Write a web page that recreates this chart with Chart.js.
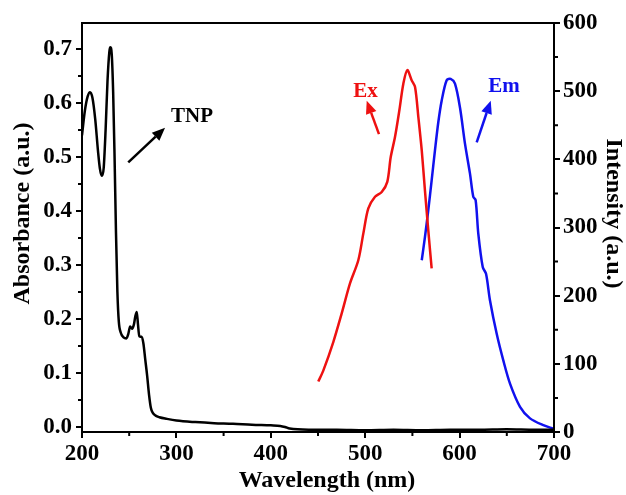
<!DOCTYPE html>
<html>
<head>
<meta charset="utf-8">
<script src="https://cdn.jsdelivr.net/npm/chart.js@4.4.1/dist/chart.umd.min.js"></script>
<style>
  html, body { margin: 0; padding: 0; background: #ffffff; }
  #c { display: block; }
</style>
</head>
<body>
<canvas id="c" width="626" height="495"></canvas>
<script>
// ---- Data ----
const TNP_X = [200, 203, 206, 208.5, 211, 214, 217, 219, 221, 223, 225, 227, 229, 230, 231.5, 233, 234.5, 236, 237.5, 239, 241, 244, 247, 249, 251, 253, 255, 256.5, 258, 259.3, 260.7, 263, 265, 267, 269, 271, 273, 275, 278, 282, 290, 300, 320, 340, 360, 380, 400, 410, 415, 420, 440, 470, 500, 530, 560, 590, 620, 650, 680, 700];
const TNP_Y = [0.54, 0.585, 0.612, 0.620, 0.61, 0.57, 0.51, 0.478, 0.465, 0.48, 0.55, 0.64, 0.695, 0.703, 0.69, 0.62, 0.50, 0.36, 0.25, 0.195, 0.175, 0.166, 0.164, 0.172, 0.186, 0.182, 0.19, 0.205, 0.213, 0.19, 0.168, 0.167, 0.155, 0.125, 0.095, 0.06, 0.035, 0.026, 0.021, 0.018, 0.015, 0.012, 0.009, 0.007, 0.006, 0.004, 0.003, 0.002, 0.0, -0.003, -0.005, -0.005, -0.006, -0.005, -0.006, -0.005, -0.005, -0.004, -0.005, -0.005];

const EX_X = [450.3, 455.6, 466.2, 475.1, 483.9, 492.7, 498, 503.3, 510.4, 517.5, 523.4, 527, 531.6, 536.2, 540.4, 544.6, 549.2, 552.8, 556.3, 559.9, 563.3, 566.8, 570.4];
const EX_Y = [74, 90, 132, 174, 218, 252, 291, 328, 345, 352, 367, 403, 433, 472, 511, 531, 516, 506, 462, 413, 354, 296, 240];

const EM_X = [559.9, 563.3, 566.8, 570.4, 573.9, 577.4, 581, 586.3, 590.5, 595.1, 600.4, 605.7, 611, 614.5, 617, 619.8, 624.5, 628, 632.2, 639.3, 646.3, 653.4, 664, 674.6, 688.7, 699.3];
const EM_Y = [252, 286, 325, 369, 413, 454, 486, 516, 518, 511, 476, 423, 379, 345, 340, 291, 242, 232, 193, 144, 105, 71, 37, 20, 10, 5];

const X_TICKS = [200, 300, 400, 500, 600, 700];
const X_MINOR = [250, 350, 450, 550, 650];
const ABS_TICKS = [0.0, 0.1, 0.2, 0.3, 0.4, 0.5, 0.6, 0.7];
const ABS_MINOR = [0.05, 0.15, 0.25, 0.35, 0.45, 0.55, 0.65];
const INT_TICKS = [0, 100, 200, 300, 400, 500, 600];
const INT_MINOR = [50, 150, 250, 350, 450, 550];

const X_TITLE = 'Wavelength (nm)';
const Y_TITLE = 'Absorbance (a.u.)';
const Y2_TITLE = 'Intensity (a.u.)';

// annotations in data coordinates
const LABELS = [
  { text: 'TNP', x: 316.5, y: 0.574, axis: 'y', color: '#000000' },
  { text: 'Ex', x: 500.3, y: 500, axis: 'y2', color: '#ee1111' },
  { text: 'Em', x: 647, y: 507, axis: 'y2', color: '#1111ee' }
];
const ARROWS = [
  { x0: 249, y0: 0.49, x1: 288, y1: 0.554, axis: 'y', color: '#000000' },
  { x0: 514.6, y0: 437, x1: 501.6, y1: 486, axis: 'y2', color: '#ee1111' },
  { x0: 618.1, y0: 425, x1: 633, y1: 486, axis: 'y2', color: '#1111ee' }
];

const toPts = (xs, ys) => xs.map((x, i) => ({ x: x, y: ys[i] }));

const FONT = 'Liberation Serif, Times New Roman, serif';

const decorPlugin = {
  id: 'decor',
  afterDraw(chart) {
    const ctx = chart.ctx;
    const a = chart.chartArea;
    const xs = chart.scales.x, ys = chart.scales.y, y2 = chart.scales.y2;
    ctx.save();
    // frame
    ctx.strokeStyle = '#000';
    ctx.lineWidth = 2;
    ctx.strokeRect(a.left, a.top, a.right - a.left, a.bottom - a.top);
    // minor ticks
    ctx.beginPath();
    X_MINOR.forEach(v => { const p = xs.getPixelForValue(v); ctx.moveTo(p, a.bottom); ctx.lineTo(p, a.bottom + 4); });
    ABS_MINOR.forEach(v => { const p = ys.getPixelForValue(v); ctx.moveTo(a.left, p); ctx.lineTo(a.left - 4, p); });
    INT_MINOR.forEach(v => { const p = y2.getPixelForValue(v); ctx.moveTo(a.right, p); ctx.lineTo(a.right + 4, p); });
    ctx.stroke();
    // arrows
    ARROWS.forEach(ar => {
      const sy = chart.scales[ar.axis];
      const px0 = xs.getPixelForValue(ar.x0), py0 = sy.getPixelForValue(ar.y0);
      const px1 = xs.getPixelForValue(ar.x1), py1 = sy.getPixelForValue(ar.y1);
      const ang = Math.atan2(py1 - py0, px1 - px0);
      const hl = 13, hw = 5.5;
      const bx = px1 - hl * Math.cos(ang), by = py1 - hl * Math.sin(ang);
      ctx.strokeStyle = ar.color;
      ctx.fillStyle = ar.color;
      ctx.lineWidth = 2.5;
      ctx.beginPath();
      ctx.moveTo(px0, py0);
      ctx.lineTo(bx, by);
      ctx.stroke();
      ctx.beginPath();
      ctx.moveTo(px1, py1);
      ctx.lineTo(bx + hw * Math.sin(ang), by - hw * Math.cos(ang));
      ctx.lineTo(bx - hw * Math.sin(ang), by + hw * Math.cos(ang));
      ctx.closePath();
      ctx.fill();
    });
    // labels
    ctx.font = 'bold 21px ' + FONT;
    ctx.textAlign = 'center';
    ctx.textBaseline = 'middle';
    LABELS.forEach(l => {
      const sy = chart.scales[l.axis];
      ctx.fillStyle = l.color;
      ctx.fillText(l.text, xs.getPixelForValue(l.x), sy.getPixelForValue(l.y));
    });
    // axis titles
    ctx.fillStyle = '#000';
    ctx.font = 'bold 24px ' + FONT;
    const midY = (a.top + a.bottom) / 2 - 14;
    ctx.fillText(X_TITLE, (a.left + a.right) / 2 + 9, a.bottom + 49);
    ctx.save();
    ctx.translate(23, midY);
    ctx.rotate(-Math.PI / 2);
    ctx.fillText(Y_TITLE, 0, 0);
    ctx.restore();
    ctx.save();
    ctx.translate(a.right + 59, midY);
    ctx.rotate(Math.PI / 2);
    ctx.fillText(Y2_TITLE, 0, 0);
    ctx.restore();
    ctx.restore();
  }
};

const tickFont = { family: FONT, size: 23, weight: 'bold' };

new Chart(document.getElementById('c'), {
  type: 'scatter',
  data: {
    datasets: [
      { label: 'TNP', data: toPts(TNP_X, TNP_Y), yAxisID: 'y', showLine: true, borderColor: '#000000', borderWidth: 2.5, pointRadius: 0, cubicInterpolationMode: 'monotone' },
      { label: 'Ex', data: toPts(EX_X, EX_Y), yAxisID: 'y2', showLine: true, borderColor: '#ee1111', borderWidth: 2.5, pointRadius: 0, tension: 0.3 },
      { label: 'Em', data: toPts(EM_X, EM_Y), yAxisID: 'y2', showLine: true, borderColor: '#1111ee', borderWidth: 2.5, pointRadius: 0, tension: 0.3 }
    ]
  },
  options: {
    responsive: false,
    animation: false,
    devicePixelRatio: 1,
    layout: { padding: { top: 23, left: 0, right: 0, bottom: 0 } },
    plugins: { legend: { display: false }, tooltip: { enabled: false } },
    scales: {
      x: {
        type: 'linear', min: 200, max: 700,
        afterBuildTicks: s => { s.ticks = X_TICKS.map(v => ({ value: v })); },
        afterFit: s => { s.height = 63; },
        grid: { drawOnChartArea: false, drawTicks: true, tickLength: 6, color: '#000', lineWidth: 2 },
        border: { display: true, color: '#000', width: 2 },
        ticks: { color: '#000', font: tickFont, padding: 2, maxRotation: 0, autoSkip: false, callback: v => String(v) },
        title: { display: false }
      },
      y: {
        type: 'linear', position: 'left', min: -0.0093, max: 0.748,
        afterBuildTicks: s => { s.ticks = ABS_TICKS.map(v => ({ value: v })); },
        afterFit: s => { s.width = 82; },
        grid: { drawOnChartArea: false, drawTicks: true, tickLength: 6, color: '#000', lineWidth: 2 },
        border: { display: true, color: '#000', width: 2 },
        ticks: { color: '#000', font: tickFont, padding: 4, autoSkip: false, callback: v => Number(v).toFixed(1) },
        title: { display: false }
      },
      y2: {
        type: 'linear', position: 'right', min: 0, max: 600,
        afterBuildTicks: s => { s.ticks = INT_TICKS.map(v => ({ value: v })); },
        afterFit: s => { s.width = 72; },
        grid: { drawOnChartArea: false, drawTicks: true, tickLength: 6, color: '#000', lineWidth: 2 },
        border: { display: true, color: '#000', width: 2 },
        ticks: { color: '#000', font: tickFont, padding: 3, autoSkip: false, callback: v => String(v) },
        title: { display: false }
      }
    }
  },
  plugins: [decorPlugin]
});
</script>
</body>
</html>
